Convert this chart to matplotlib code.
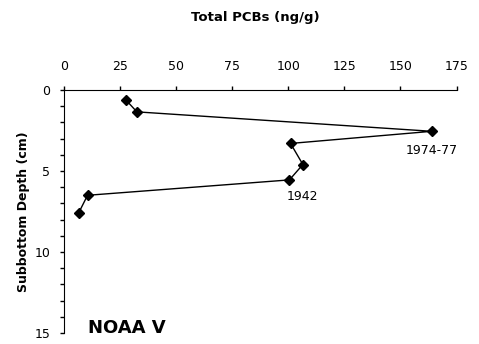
import matplotlib.pyplot as plt
import numpy as np

# Total PCBs (ng/g) vs subbottom depth (cm), core NOAA V
pcb = [27.5, 32.5, 164, 101, 106.5, 100.5, 10.5, 6.5]
depth = [0.6, 1.35, 2.55, 3.3, 4.6, 5.55, 6.5, 7.6]

x_ticks = [0, 25, 50, 75, 100, 125, 150, 175]
y_ticks = [0, 5, 10, 15]

fig = plt.figure(figsize=(4.79, 3.44), dpi=100)
ax = fig.add_axes([0.1336, 0.032, 0.8195, 0.7064])

ax.plot(pcb, depth, color='black', lw=1, marker='D', ms=5.5, mfc='black', mec='black')

ax.set_xlim(0, 175)
ax.set_ylim(15, 0)
ax.set_xticks(x_ticks)
ax.set_yticks(y_ticks)
ax.set_yticks(np.arange(0, 16, 1), minor=True)

ax.xaxis.tick_top()
ax.spines['right'].set_visible(False)
ax.spines['bottom'].set_visible(False)
ax.tick_params(axis='x', direction='out', length=3, width=1, labelsize=9, pad=9)
ax.tick_params(axis='y', which='major', direction='out', length=3, width=1, labelsize=9, pad=7)
ax.tick_params(axis='y', which='minor', direction='out', length=3, width=1)

ax.set_ylabel('Subbottom Depth (cm)', fontsize=9, fontweight='bold', labelpad=3)
fig.text(0.532, 0.95, 'Total PCBs (ng/g)', fontsize=9.5, fontweight='bold', ha='center', va='center')

ax.text(164, 3.75, '1974-77', fontsize=9, ha='center', va='center')
ax.text(106.5, 6.55, '1942', fontsize=9, ha='center', va='center')
ax.text(10.5, 14.7, 'NOAA V', fontsize=13, fontweight='bold', ha='left', va='center')

fig.savefig('out.png', dpi=100)
